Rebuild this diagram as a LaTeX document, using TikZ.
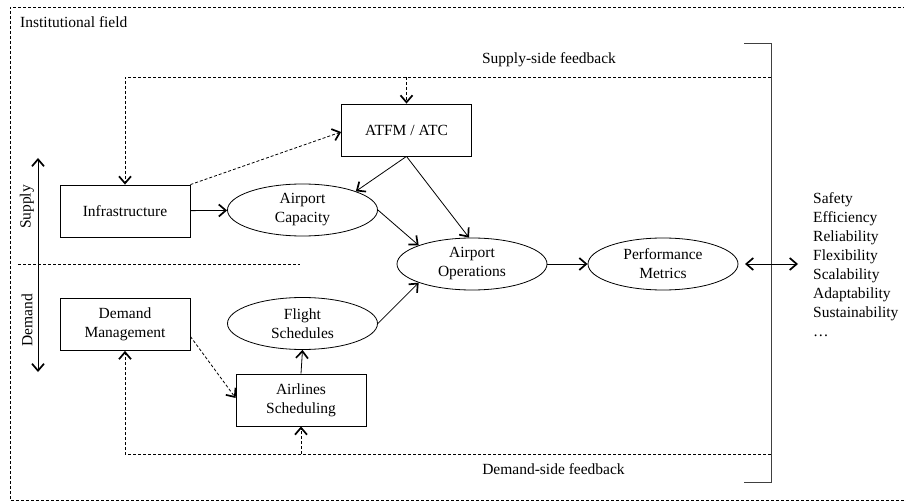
\documentclass[tikz,border=0pt]{standalone}
\usepackage{fontspec}
\setmainfont{Liberation Serif}
\usetikzlibrary{arrows.meta,shapes.geometric}
\begin{document}
\begin{tikzpicture}[x=1pt,y=-1pt,
  font=\fontsize{15.5}{19}\selectfont,
  every node/.style={inner sep=0pt},
  box/.style={draw, line width=0.8pt, minimum width=130pt, minimum height=52pt, align=center},
  oval/.style={draw, ellipse, line width=0.8pt, minimum width=150pt, minimum height=52pt, align=center},
  conn/.style={line width=0.8pt, -{Straight Barb[length=7pt,width=12pt,line width=1.7pt]}},
  dconn/.style={conn, dash pattern=on 3pt off 2pt},
  both/.style={line width=0.8pt, {Straight Barb[length=7pt,width=12pt,line width=1.7pt]}-{Straight Barb[length=7pt,width=12pt,line width=1.7pt]}},
  dline/.style={line width=0.8pt, dash pattern=on 3pt off 2pt},
  bracket/.style={line width=1pt, draw=black!75}
]
\useasboundingbox (0,0) rectangle (904,502);

% outer institutional frame
\draw[dline] (906,7) -- (10,7) -- (10,500) -- (906,500);
\node[anchor=base west] (inst) at (20,28) {Institutional field};

% nodes
\node[box] (atfm) at (406.5,130) {ATFM / ATC};
\node[box] (infra) at (125,211) {Infrastructure};
\node[box] (dm) at (125,324.5) {Demand\\Management};
\node[box] (airl) at (301,400) {Airlines\\Scheduling};
\node[oval] (cap) at (302.5,210) {Airport\\Capacity};
\node[oval] (fs) at (302.5,323.5) {Flight\\Schedules};
\node[oval] (ops) at (472,264) {Airport\\Operations};
\node[oval] (perf) at (663,264) {Performance\\Metrics};

% bracket
\draw[bracket] (744,44) -- (771,44) -- (771,482) -- (744,482);

% feedback loops
\coordinate (sfR) at (771,77);
\coordinate (dfR) at (771,454);
\draw[dconn] (sfR) -- (infra.north |- sfR) -- (infra.north);
\draw[dconn] (atfm.north |- sfR) -- (atfm.north);
\draw[dconn] (dfR) -- (dm.south |- dfR) -- (dm.south);
\draw[dconn] (airl.south |- dfR) -- (airl.south);
\node (sft) at (549,60) {Supply-side feedback};
\node (dft) at (553.5,469) {Demand-side feedback};

% connectors
\draw[conn] (infra) -- (cap);
\draw[dconn] (infra.north east) -- ([yshift=-2pt]atfm.west);
\draw[conn] (atfm.south) -- (cap.north east);
\draw[conn] (atfm.south) -- ([xshift=-3pt]ops.north);
\draw[conn] (cap.east) -- (ops.north west);
\draw[conn] (fs.east) -- (ops.south west);
\draw[conn] (airl.north) -- (fs.south);
\draw[dconn] ([yshift=-12pt]dm.east) -- ([yshift=2pt]airl.west);
\draw[conn] (ops) -- (perf);

% performance dimensions
\coordinate (mL) at (745,264);
\coordinate (mR) at (798,264);
\draw[both] (mL) -- (mR);
\node[anchor=north west, align=left] (metrics) at (813,192)
  {Safety\\Efficiency\\Reliability\\Flexibility\\Scalability\\Adaptability\\Sustainability\\…};

% supply / demand axis
\coordinate (sdT) at (38,158);
\coordinate (sdB) at (38,372);
\draw[both] (sdT) -- (sdB);
\coordinate (sepL) at (18,264);
\coordinate (sepR) at (300,264);
\draw[dline] (sepL) -- (sepR);
\node[rotate=90] (sup) at (27,207) {Supply};
\node[rotate=90] (dem) at (27,320) {Demand};
\end{tikzpicture}
\end{document}
